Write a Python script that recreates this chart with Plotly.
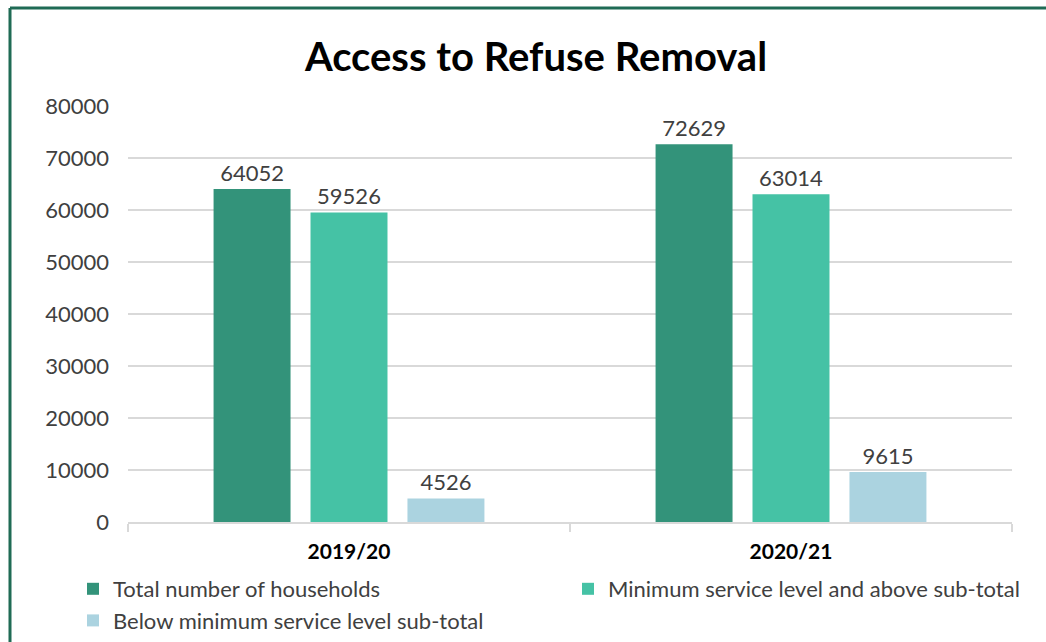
import plotly.graph_objects as go

# Financial years and household counts per service category
years = ["2019/20", "2020/21"]
total_households = [64052, 72629]
min_service_and_above = [59526, 63014]
below_min_service = [4526, 9615]

series_names = [
    "Total number of households",
    "Minimum service level and above sub-total",
    "Below minimum service level sub-total",
]
series_values = [total_households, min_service_and_above, below_min_service]
series_colors = ["#33937A", "#45C2A5", "#ABD3E0"]

y_ticks = [0, 10000, 20000, 30000, 40000, 50000, 60000, 70000, 80000]

W, H = 1046, 642
ML, MR, MT, MB = 128, 34, 106, 120
FONT = "Lato"
TEXT = "#404040"

fig = go.Figure()
for name, vals, col in zip(series_names, series_values, series_colors):
    fig.add_trace(go.Bar(
        name=name,
        x=years,
        y=vals,
        marker=dict(color=col, line=dict(width=0)),
        text=[str(v) for v in vals],
        textposition="outside",
        textfont=dict(family=FONT, size=22, color=TEXT),
        cliponaxis=False,
    ))

# Chart frame: green rule along the left and top edges
pw = W - ML - MR
ph = H - MT - MB
x_left = (10 - ML) / pw
y_top = 1 + (MT - 8) / ph
y_bottom = -(MB + 5) / ph
fig.add_shape(type="line", xref="paper", yref="paper",
              x0=x_left, x1=x_left, y0=y_bottom, y1=y_top,
              line=dict(color="#1F6B55", width=3))
fig.add_shape(type="line", xref="paper", yref="paper",
              x0=x_left, x1=(W + 5 - ML) / pw, y0=y_top, y1=y_top,
              line=dict(color="#1F6B55", width=3))

fig.update_layout(
    width=W, height=H,
    margin=dict(l=ML, r=MR, t=MT, b=MB, pad=0, autoexpand=False),
    paper_bgcolor="white",
    plot_bgcolor="white",
    barmode="group",
    bargap=0.342,
    bargroupgap=0.206,
    title=dict(
        text="<b>Access to Refuse Removal</b>",
        font=dict(family=FONT, size=40, color="black"),
        x=536 / W, xanchor="center", xref="container",
        y=1 - 57 / H, yanchor="middle", yref="container",
    ),
    font=dict(family=FONT, color=TEXT),
    showlegend=True,
    legend=dict(
        orientation="h",
        x=(73 - ML) / pw, xanchor="left",
        y=-(568 - (H - MB)) / ph, yanchor="top",
        font=dict(family=FONT, size=22, color=TEXT),
        entrywidth=450, entrywidthmode="pixels",
        traceorder="normal",
        itemwidth=30,
    ),
    xaxis=dict(
        type="category",
        showline=True, linecolor="#D9D9D9", linewidth=2,
        ticks="outside", tickson="boundaries", ticklen=8,
        tickcolor="#D9D9D9", tickwidth=2,
        ticklabelstandoff=10,
        tickfont=dict(family=FONT, size=21, color="black", weight="bold"),
        showgrid=False,
    ),
    yaxis=dict(
        range=[0, 80000],
        tickvals=y_ticks,
        ticktext=[str(v) for v in y_ticks],
        showgrid=True, gridcolor="#D9D9D9", gridwidth=2,
        zeroline=False, showline=False,
        ticks="", ticklabelstandoff=18,
        tickfont=dict(family=FONT, size=22, color=TEXT),
    ),
)

fig.write_html("out.html")
